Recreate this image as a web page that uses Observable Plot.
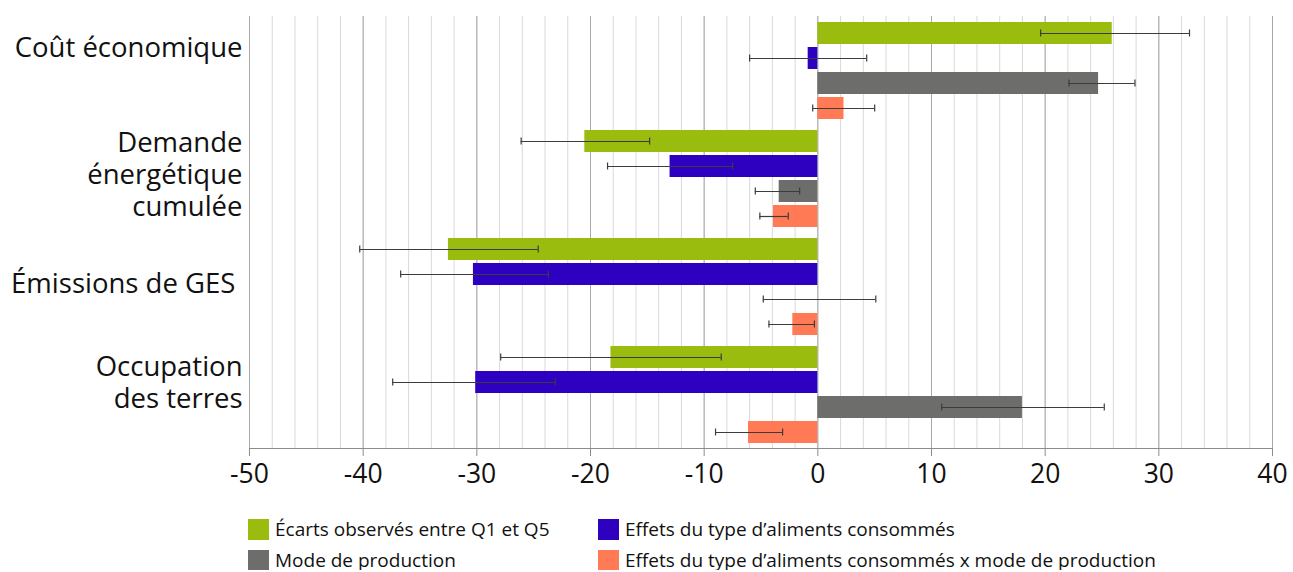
<!DOCTYPE html>
<html><head><meta charset="utf-8">
<script src="https://cdn.jsdelivr.net/npm/d3@7"></script>
<script src="https://cdn.jsdelivr.net/npm/@observablehq/plot@0.6"></script>
<style>
body{margin:0;background:#fff;font-family:"Open Sans",sans-serif;color:#111;}
#legend{display:grid;grid-template-columns:350px auto;row-gap:11px;padding-left:248px;margin-top:19px;font-size:19px;}
.item{display:flex;align-items:center;height:20px;white-space:nowrap;}
.sw{width:21px;height:21px;margin-right:6px;flex:none;}
</style></head><body>
<div id="chart"></div><div id="legend"></div>
<script>
const categories = ["Coût économique", "Demande énergétique cumulée", "Émissions de GES", "Occupation des terres"];
const categoryLabels = ["Coût économique", "Demande\nénergétique\ncumulée", "Émissions de GES\u00a0", "Occupation\ndes terres"];
const series = ["Écarts observés entre Q1 et Q5", "Effets du type d’aliments consommés", "Mode de production", "Effets du type d’aliments consommés x mode de production"];
const colors = ["#9abc0e", "#2e00bf", "#6d6d6b", "#ff7a55"];

const ecarts = [25.9, -20.5, -32.5, -18.2];
const ecartsLow = [19.6, -26.1, -40.3, -27.9];
const ecartsHigh = [32.7, -14.8, -24.6, -8.5];

const typeAliments = [-0.85, -13.0, -30.3, -30.1];
const typeAlimentsLow = [-6.0, -18.5, -36.7, -37.4];
const typeAlimentsHigh = [4.3, -7.5, -23.7, -23.1];

const modeProduction = [24.7, -3.4, 0, 18.0];
const modeProductionLow = [22.1, -5.5, -4.8, 10.9];
const modeProductionHigh = [27.9, -1.6, 5.1, 25.2];

const interaction = [2.3, -3.9, -2.2, -6.1];
const interactionLow = [-0.45, -5.1, -4.3, -9.0];
const interactionHigh = [5.0, -2.6, -0.3, -3.1];

const xTicks = [-50, -40, -30, -20, -10, 0, 10, 20, 30, 40];

const values = [ecarts, typeAliments, modeProduction, interaction];
const lows = [ecartsLow, typeAlimentsLow, modeProductionLow, interactionLow];
const highs = [ecartsHigh, typeAlimentsHigh, modeProductionHigh, interactionHigh];

const rows = [];
categories.forEach((cat, i) => {
  series.forEach((s, j) => {
    rows.push({cat, series: s, value: values[j][i], lo: lows[j][i], hi: highs[j][i]});
  });
});

const minorTicks = d3.range(-50, 41, 2);
const labelDy = [-24, -5, -4, -13];

const chart = Plot.plot({
  width: 1293,
  height: 500,
  marginLeft: 249,
  marginRight: 21,
  marginTop: 14,
  marginBottom: 51,
  style: {fontFamily: "Open Sans", background: "#fff"},
  x: {domain: [-50, 40], axis: null},
  y: {domain: series, axis: null, paddingInner: 0.13, paddingOuter: 0.17},
  fy: {domain: categories, axis: null, padding: 0},
  color: {domain: series, range: colors},
  marks: [
    Plot.ruleX(minorTicks, {stroke: "#d9d9d9", strokeWidth: 1}),
    Plot.ruleX(xTicks, {stroke: "#a8a8a8", strokeWidth: 1}),
    Plot.frame({anchor: "bottom", stroke: "#8c8c8c", facet: "super"}),
    Plot.barX(rows, {x: "value", y: "series", fy: "cat", fill: "series"}),
    Plot.ruleY(rows, {x1: "lo", x2: "hi", y: "series", fy: "cat", stroke: "#3c3c3c", strokeWidth: 1.2}),
    Plot.tickX(rows, {x: "lo", y: "series", fy: "cat", stroke: "#3c3c3c", strokeWidth: 1.2, insetTop: 7.5, insetBottom: 7.5}),
    Plot.tickX(rows, {x: "hi", y: "series", fy: "cat", stroke: "#3c3c3c", strokeWidth: 1.2, insetTop: 7.5, insetBottom: 7.5}),
    ...categories.map((c, i) => Plot.text([c], {
      fy: d => d, frameAnchor: "left", text: () => categoryLabels[i],
      textAnchor: "end", dx: -7, dy: labelDy[i], fontSize: 27.5, lineHeight: 1.17, fill: "#111"
    })),
    Plot.axisX(xTicks, {tickSize: 8, tickPadding: 8, fontSize: 26.5, tickFormat: d => String(d), stroke: "#8c8c8c", fill: "#111"})
  ]
});
document.getElementById("chart").appendChild(chart);

const legend = document.getElementById("legend");
[0, 1, 2, 3].forEach(j => {
  const it = document.createElement("div");
  it.className = "item";
  const sw = document.createElement("span");
  sw.className = "sw";
  sw.style.background = colors[j];
  const tx = document.createElement("span");
  tx.textContent = series[j];
  it.appendChild(sw); it.appendChild(tx);
  legend.appendChild(it);
});
</script>
</body></html>
